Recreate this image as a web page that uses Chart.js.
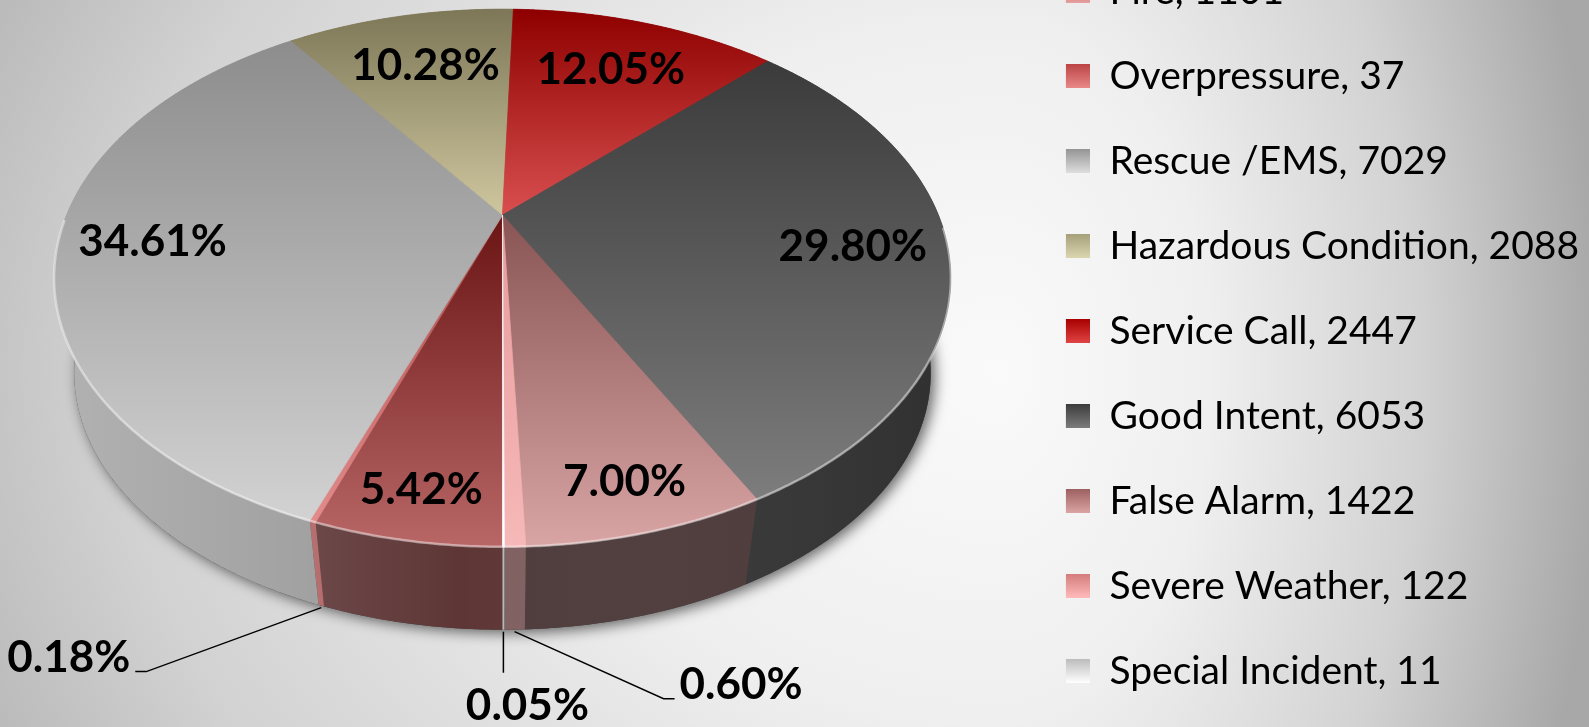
<!DOCTYPE html>
<html>
<head>
<meta charset="utf-8">
<script src="https://cdn.jsdelivr.net/npm/chart.js@4.4.1/dist/chart.umd.min.js"></script>
<style>
html, body { margin: 0; padding: 0; overflow: hidden; background: #e4e4e4; }
#marco { position: relative; width: 1589px; height: 727px; overflow: hidden; }
#contenedor { position: absolute; left: -15px; top: -89px; width: 1604px; height: 840px; }
</style>
</head>
<body>
<div id="marco"><div id="contenedor"><canvas id="grafico"></canvas></div></div>
<script>
// DATOS
const categorias = ['Fire', 'Overpressure', 'Rescue /EMS', 'Hazardous Condition', 'Service Call', 'Good Intent', 'False Alarm', 'Severe Weather', 'Special Incident'];
const incidentes = [1101, 37, 7029, 2088, 2447, 6053, 1422, 122, 11];

// ESTILO
const coloresLeyenda = ['#b45c5c', '#c65a5a', '#a8a8a8', '#bdb790', '#c01818', '#5a5a5a', '#b07a7a', '#e49a9a', '#d8d8d8'];
const degradeLeyenda = [
    ['#a85050', '#e8a0a0'], ['#bc4444', '#e88888'], ['#949494', '#dedede'], ['#a6a07a', '#dcd6b0'],
    ['#a80000', '#e04444'], ['#3c3c3c', '#7c7c7c'], ['#9c6060', '#dca4a4'], ['#d47c7c', '#ffbaba'], ['#bcbcbc', '#ffffff']
];
const caraSuperior = [
    [[0.38, '#6a1414'], [1, '#b86666']],
    [[0.5, '#b85858'], [1, '#e89090']],
    [[0, '#888888'], [1, '#d6d6d6']],
    [[0, '#7d7757'], [0.4, '#d2caa2']],
    [[0, '#8e0000'], [0.4, '#dc5252']],
    [[0, '#333333'], [1, '#848484']],
    [[0.4, '#8a5656'], [1, '#d8a4a4']],
    [[0.4, '#e89c9c'], [1, '#f6b8b8']],
    [[0.4, '#f0f0f0'], [1, '#ffffff']]
];
const coloresPared = ['#5e3636', '#b06060', '#989898', '#6a6650', '#700000', '#363636', '#4e3b3b', '#806060', '#b8b8b8'];
// guias de etiquetas chicas: codo relativo al borde inferior y lado del texto
const guias = { 1: { codo: [-175, 66], lado: -1 }, 7: { codo: [149, 69], lado: 1 }, 8: { codo: [0, 43], lado: 0 } };

const total = incidentes.reduce((a, b) => a + b, 0);

// PROYECCION 3D (relativa al arco que calcula Chart.js)
function proyeccion(arc) {
    const R = arc.outerRadius;
    return { cx: arc.x, cy: arc.y - 0.276 * R, A: 1.038 * R, B: 0.605 * R, k: 0.234, s: 0.955, dz: 0.233 * R };
}
function arriba(p, a, r = 1) {
    const u = r * Math.cos(a), v = r * Math.sin(a), w = 1 - p.k * v;
    return [p.cx + p.A * u / w, p.cy + p.B * v / w];
}
function abajo(p, a) {
    const [x, y] = arriba(p, a);
    return [p.cx + p.s * (x - p.cx), p.cy + p.dz + p.s * (y - p.cy)];
}
function puntosArco(p, a1, a2, fn) {
    const n = Math.max(2, Math.ceil(Math.abs(a2 - a1) / 0.008) + 1);
    const pts = [];
    for (let i = 0; i < n; i++) pts.push(fn(p, a1 + (a2 - a1) * i / (n - 1)));
    return pts;
}
function trazar(ctx, pts) {
    ctx.beginPath();
    pts.forEach((pt, j) => j ? ctx.lineTo(pt[0], pt[1]) : ctx.moveTo(pt[0], pt[1]));
    ctx.closePath();
}

function pintarFondo(ctx, w, h) {
    const cx = 1015, cy = 459, ry = 1000;
    const mitades = [[0, cx, 1265], [cx, w, 600]];
    mitades.forEach(([x0, x1, rx]) => {
        ctx.save();
        ctx.beginPath(); ctx.rect(x0, 0, x1 - x0, h); ctx.clip();
        ctx.translate(cx, cy); ctx.scale(rx / ry, 1);
        const g = ctx.createRadialGradient(0, 0, 0, 0, 0, ry);
        g.addColorStop(0, '#fafafa'); g.addColorStop(0.35, '#efefef');
        g.addColorStop(0.7, '#d2d2d2'); g.addColorStop(1, '#a8a8a8');
        ctx.fillStyle = g;
        ctx.fillRect(-3 * ry, -3 * ry, 6 * ry, 6 * ry);
        ctx.restore();
    });
}

const pastel3D = {
    id: 'pastel3D',
    beforeDraw(chart) {
        pintarFondo(chart.ctx, chart.width, chart.height);
    },
    beforeDatasetsDraw(chart) {
        const ctx = chart.ctx;
        const arcos = chart.getDatasetMeta(0).data;
        const p = proyeccion(arcos[0]);
        const yTop = p.cy - p.B / (1 + p.k), yBot = p.cy + p.B / (1 - p.k);
        const xMed = p.A / Math.sqrt(1 - p.k * p.k);

        // sombra
        ctx.save();
        trazar(ctx, puntosArco(p, 0, 2 * Math.PI, abajo));
        ctx.shadowColor = 'rgba(0,0,0,0.6)'; ctx.shadowBlur = 14; ctx.shadowOffsetX = 4; ctx.shadowOffsetY = 3;
        ctx.fillStyle = '#444'; ctx.fill();
        ctx.restore();

        // paredes
        const brillo = ctx.createLinearGradient(p.cx - xMed, 0, p.cx + xMed, 0);
        brillo.addColorStop(0, 'rgba(255,255,255,0.25)');
        brillo.addColorStop(0.45, 'rgba(255,255,255,0)');
        brillo.addColorStop(1, 'rgba(0,0,0,0.12)');
        arcos.forEach((arc, i) => {
            const sup = puntosArco(p, arc.startAngle, arc.endAngle, arriba);
            const inf = puntosArco(p, arc.startAngle, arc.endAngle, abajo).reverse();
            trazar(ctx, sup.concat(inf));
            ctx.fillStyle = coloresPared[i]; ctx.fill();
            ctx.fillStyle = brillo; ctx.fill();
        });

        // caras superiores
        arcos.forEach((arc, i) => {
            const g = ctx.createLinearGradient(0, yTop, 0, yBot);
            caraSuperior[i].forEach(([t, c]) => g.addColorStop(t, c));
            trazar(ctx, [[p.cx, p.cy]].concat(puntosArco(p, arc.startAngle, arc.endAngle, arriba)));
            ctx.fillStyle = g; ctx.fill();
            ctx.strokeStyle = g; ctx.lineWidth = 0.8; ctx.stroke();
        });

        // borde iluminado
        ctx.save();
        ctx.beginPath();
        puntosArco(p, 0.05, Math.PI - 0.02, arriba).forEach((pt, j) => j ? ctx.lineTo(pt[0], pt[1]) : ctx.moveTo(pt[0], pt[1]));
        ctx.strokeStyle = 'rgba(255,255,255,0.45)'; ctx.lineWidth = 2.5; ctx.stroke();
        ctx.restore();

        // etiquetas
        ctx.save();
        ctx.font = 'bold 44px Lato';
        ctx.fillStyle = '#000';
        ctx.strokeStyle = '#000';
        ctx.lineWidth = 1.5;
        ctx.textBaseline = 'middle';
        arcos.forEach((arc, i) => {
            const texto = (incidentes[i] / total * 100).toFixed(2) + '%';
            const medio = (arc.startAngle + arc.endAngle) / 2;
            const guia = guias[i];
            if (!guia) {
                const v = Math.sin(medio);
                const [x, y] = arriba(p, medio, 0.79 + 0.09 * v * v * v);
                ctx.textAlign = 'center';
                ctx.fillText(texto, x, y);
                return;
            }
            const [ax, ay] = abajo(p, medio);
            const cx = ax + guia.codo[0], cy = ay + guia.codo[1];
            ctx.beginPath();
            ctx.moveTo(ax, ay + 2);
            ctx.lineTo(cx, cy);
            if (guia.lado) ctx.lineTo(cx + 11 * guia.lado, cy);
            ctx.stroke();
            if (guia.lado) {
                ctx.textAlign = guia.lado > 0 ? 'left' : 'right';
                ctx.fillText(texto, cx + 16 * guia.lado, cy - 14);
            } else {
                ctx.textAlign = 'center';
                ctx.fillText(texto, cx + 24, cy + 33);
            }
        });
        ctx.restore();
        return false;
    },
    afterDraw(chart) {
        // cuadritos de la leyenda con brillo
        const ctx = chart.ctx;
        const leyenda = chart.legend;
        const lab = leyenda.options.labels;
        const alto = Math.max(lab.font.size, lab.boxHeight);
        leyenda.legendHitBoxes.forEach((hb, i) => {
            const y = hb.top + (alto - lab.boxHeight) / 2;
            const g = ctx.createLinearGradient(0, y, 0, y + lab.boxHeight);
            g.addColorStop(0, degradeLeyenda[i][0]);
            g.addColorStop(1, degradeLeyenda[i][1]);
            ctx.fillStyle = g;
            ctx.fillRect(hb.left, y, lab.boxWidth, lab.boxHeight);
        });
    }
};

const miGrafico = new Chart(document.getElementById('grafico'), {
    type: 'pie',
    data: {
        labels: categorias,
        datasets: [{ data: incidentes, backgroundColor: coloresLeyenda, borderWidth: 0 }]
    },
    options: {
        responsive: true, maintainAspectRatio: false, animation: false,
        rotation: 180,
        layout: { padding: 0 },
        plugins: {
            tooltip: { enabled: false },
            legend: {
                position: 'right', align: 'center',
                labels: {
                    boxWidth: 24, boxHeight: 24, padding: 46, color: '#000',
                    font: { family: 'Lato', size: 39 },
                    generateLabels: () => categorias.map((c, i) => ({
                        text: `${c}, ${incidentes[i]}`, fillStyle: coloresLeyenda[i], strokeStyle: coloresLeyenda[i],
                        lineWidth: 0, hidden: false, index: i, fontColor: '#000'
                    }))
                }
            }
        }
    },
    plugins: [pastel3D]
});
</script>
</body>
</html>
